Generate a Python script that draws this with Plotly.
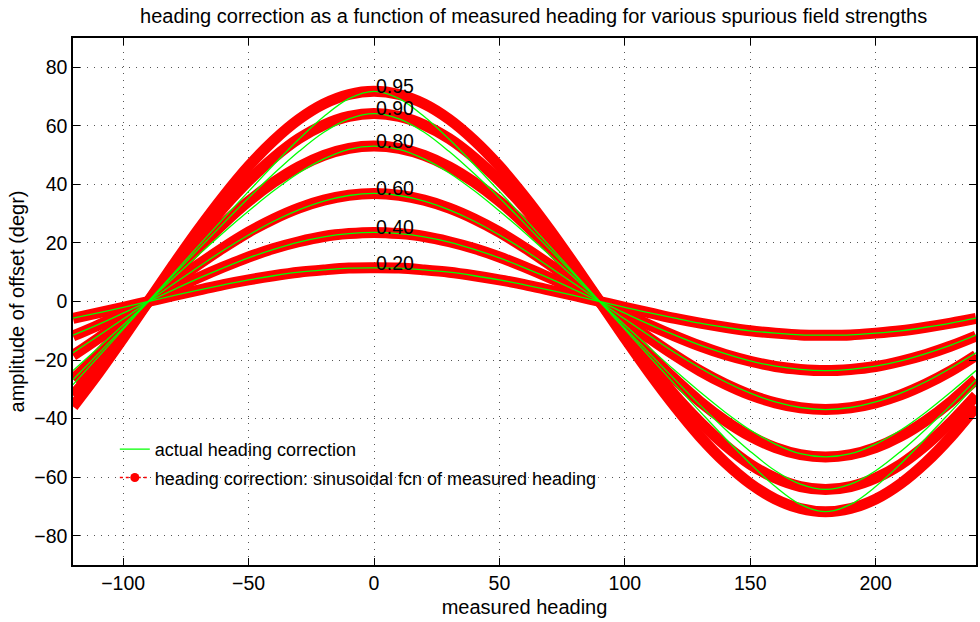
import plotly.graph_objects as go

# measured heading (degrees)
heading = list(range(-120, 241, 10))

strengths = ["0.20", "0.40", "0.60", "0.80", "0.90", "0.95"]

# sinusoidal approximation (red)
red_020 = [-5.8, -3.9, -2.0, 0, 2.0, 3.9, 5.8, 7.4, 8.8, 10.0, 10.8, 11.4, 11.5, 11.4, 10.8, 10.0, 8.8, 7.4, 5.8, 3.9, 2.0, 0,
           -2.0, -3.9, -5.8, -7.4, -8.8, -10.0, -10.8, -11.4, -11.5, -11.4, -10.8, -10.0, -8.8, -7.4, -5.8]
red_040 = [-11.8, -8.1, -4.1, 0, 4.1, 8.1, 11.8, 15.2, 18.1, 20.4, 22.2, 23.2, 23.6, 23.2, 22.2, 20.4, 18.1, 15.2, 11.8, 8.1, 4.1, 0,
           -4.1, -8.1, -11.8, -15.2, -18.1, -20.4, -22.2, -23.2, -23.6, -23.2, -22.2, -20.4, -18.1, -15.2, -11.8]
red_060 = [-18.4, -12.6, -6.4, 0, 6.4, 12.6, 18.4, 23.7, 28.2, 31.9, 34.6, 36.3, 36.9, 36.3, 34.6, 31.9, 28.2, 23.7, 18.4, 12.6, 6.4, 0,
           -6.4, -12.6, -18.4, -23.7, -28.2, -31.9, -34.6, -36.3, -36.9, -36.3, -34.6, -31.9, -28.2, -23.7, -18.4]
red_080 = [-26.6, -18.2, -9.2, 0, 9.2, 18.2, 26.6, 34.2, 40.7, 46.0, 49.9, 52.3, 53.1, 52.3, 49.9, 46.0, 40.7, 34.2, 26.6, 18.2, 9.2, 0,
           -9.2, -18.2, -26.6, -34.2, -40.7, -46.0, -49.9, -52.3, -53.1, -52.3, -49.9, -46.0, -40.7, -34.2, -26.6]
red_090 = [-32.1, -21.9, -11.1, 0, 11.1, 21.9, 32.1, 41.2, 49.1, 55.6, 60.3, 63.2, 64.2, 63.2, 60.3, 55.6, 49.1, 41.2, 32.1, 21.9, 11.1, 0,
           -11.1, -21.9, -32.1, -41.2, -49.1, -55.6, -60.3, -63.2, -64.2, -63.2, -60.3, -55.6, -49.1, -41.2, -32.1]
red_095 = [-35.9, -24.6, -12.5, 0, 12.5, 24.6, 35.9, 46.2, 55.0, 62.2, 67.5, 70.7, 71.8, 70.7, 67.5, 62.2, 55.0, 46.2, 35.9, 24.6, 12.5, 0,
           -12.5, -24.6, -35.9, -46.2, -55.0, -62.2, -67.5, -70.7, -71.8, -70.7, -67.5, -62.2, -55.0, -46.2, -35.9]

# actual heading correction (green)
grn_020 = [-5.7, -3.9, -2.0, 0, 2.0, 3.9, 5.7, 7.4, 8.8, 10.0, 10.8, 11.4, 11.5, 11.4, 10.8, 10.0, 8.8, 7.4, 5.7, 3.9, 2.0, 0,
           -2.0, -3.9, -5.7, -7.4, -8.8, -10.0, -10.8, -11.4, -11.5, -11.4, -10.8, -10.0, -8.8, -7.4, -5.7]
grn_040 = [-11.5, -7.9, -4.0, 0, 4.0, 7.9, 11.5, 14.9, 17.8, 20.3, 22.1, 23.2, 23.6, 23.2, 22.1, 20.3, 17.8, 14.9, 11.5, 7.9, 4.0, 0,
           -4.0, -7.9, -11.5, -14.9, -17.8, -20.3, -22.1, -23.2, -23.6, -23.2, -22.1, -20.3, -17.8, -14.9, -11.5]
grn_060 = [-17.5, -11.8, -6.0, 0, 6.0, 11.8, 17.5, 22.7, 27.4, 31.3, 34.3, 36.2, 36.9, 36.2, 34.3, 31.3, 27.4, 22.7, 17.5, 11.8, 6.0, 0,
           -6.0, -11.8, -17.5, -22.7, -27.4, -31.3, -34.3, -36.2, -36.9, -36.2, -34.3, -31.3, -27.4, -22.7, -17.5]
grn_080 = [-23.6, -15.9, -8.0, 0, 8.0, 15.9, 23.6, 30.9, 37.8, 43.9, 48.7, 52.0, 53.1, 52.0, 48.7, 43.9, 37.8, 30.9, 23.6, 15.9, 8.0, 0,
           -8.0, -15.9, -23.6, -30.9, -37.8, -43.9, -48.7, -52.0, -53.1, -52.0, -48.7, -43.9, -37.8, -30.9, -23.6]
grn_090 = [-26.7, -17.9, -9.0, 0, 9.0, 17.9, 26.7, 35.4, 43.6, 51.2, 57.8, 62.4, 64.2, 62.4, 57.8, 51.2, 43.6, 35.4, 26.7, 17.9, 9.0, 0,
           -9.0, -17.9, -26.7, -35.4, -43.6, -51.2, -57.8, -62.4, -64.2, -62.4, -57.8, -51.2, -43.6, -35.4, -26.7]
grn_095 = [-28.4, -19.0, -9.5, 0, 9.5, 19.0, 28.4, 37.6, 46.7, 55.4, 63.2, 69.3, 71.8, 69.3, 63.2, 55.4, 46.7, 37.6, 28.4, 19.0, 9.5, 0,
           -9.5, -19.0, -28.4, -37.6, -46.7, -55.4, -63.2, -69.3, -71.8, -69.3, -63.2, -55.4, -46.7, -37.6, -28.4]

red_series = [red_020, red_040, red_060, red_080, red_090, red_095]
grn_series = [grn_020, grn_040, grn_060, grn_080, grn_090, grn_095]

x_ticks = [-100, -50, 0, 50, 100, 150, 200]
y_ticks = [-80, -60, -40, -20, 0, 20, 40, 60, 80]

FONT = "Liberation Sans, Arial, Helvetica, sans-serif"
RED = "#ff0000"
GREEN = "#00ff00"

fig = go.Figure()

for ys in red_series:
    fig.add_trace(go.Scatter(x=heading, y=ys, mode="lines",
                             line=dict(color=RED, width=11, shape="spline"),
                             showlegend=False, hoverinfo="skip"))
for i, ys in enumerate(grn_series):
    fig.add_trace(go.Scatter(x=heading, y=ys, mode="lines",
                             line=dict(color=GREEN, width=1.3, shape="spline"),
                             name="actual heading correction",
                             legendgroup="g1", showlegend=(i == 0)))
# legend entry for the sinusoidal approximation
fig.add_trace(go.Scatter(x=[None], y=[None], mode="lines+markers",
                         line=dict(color=RED, width=1.5, dash="dot"),
                         marker=dict(color=RED, size=9),
                         name="heading correction: sinusoidal fcn of measured heading",
                         legendgroup="g2", showlegend=True))

for lab, ys in zip(strengths, red_series):
    fig.add_annotation(x=0, y=max(ys) + 1.8, text=lab, showarrow=False,
                       xanchor="left", yanchor="middle",
                       font=dict(family=FONT, size=19.5, color="black"))

axis_common = dict(showline=True, linecolor="black", linewidth=1.5, mirror="ticks",
                   ticks="inside", ticklen=7, tickwidth=1.2, tickcolor="black",
                   showgrid=True, gridcolor="#555555", gridwidth=1, griddash="1px,6px",
                   zeroline=False, tickfont=dict(family=FONT, size=19.5, color="black"))

fig.update_layout(
    width=980, height=622,
    margin=dict(l=73, r=2, t=38, b=57),
    paper_bgcolor="white", plot_bgcolor="white",
    title=dict(text="heading correction as a function of measured heading for various spurious field strengths",
               x=0.5445, xanchor="center", y=1 - 16 / 622, yanchor="middle",
               font=dict(family=FONT, size=20, color="black")),
    xaxis=dict(range=[-120, 240], tickvals=x_ticks,
               title=dict(text="measured heading", font=dict(family=FONT, size=20, color="black"), standoff=7),
               **axis_common),
    yaxis=dict(range=[-90, 90], tickvals=y_ticks,
               title=dict(text="amplitude of offset (degr)", font=dict(family=FONT, size=20, color="black"), standoff=4),
               **axis_common),
    legend=dict(x=0.0463, y=0.2545, xanchor="left", yanchor="top",
                bgcolor="rgba(0,0,0,0)", borderwidth=0,
                font=dict(family=FONT, size=18, color="black"),
                traceorder="grouped", tracegroupgap=2),
    showlegend=True,
)

fig.write_html("out.html")
